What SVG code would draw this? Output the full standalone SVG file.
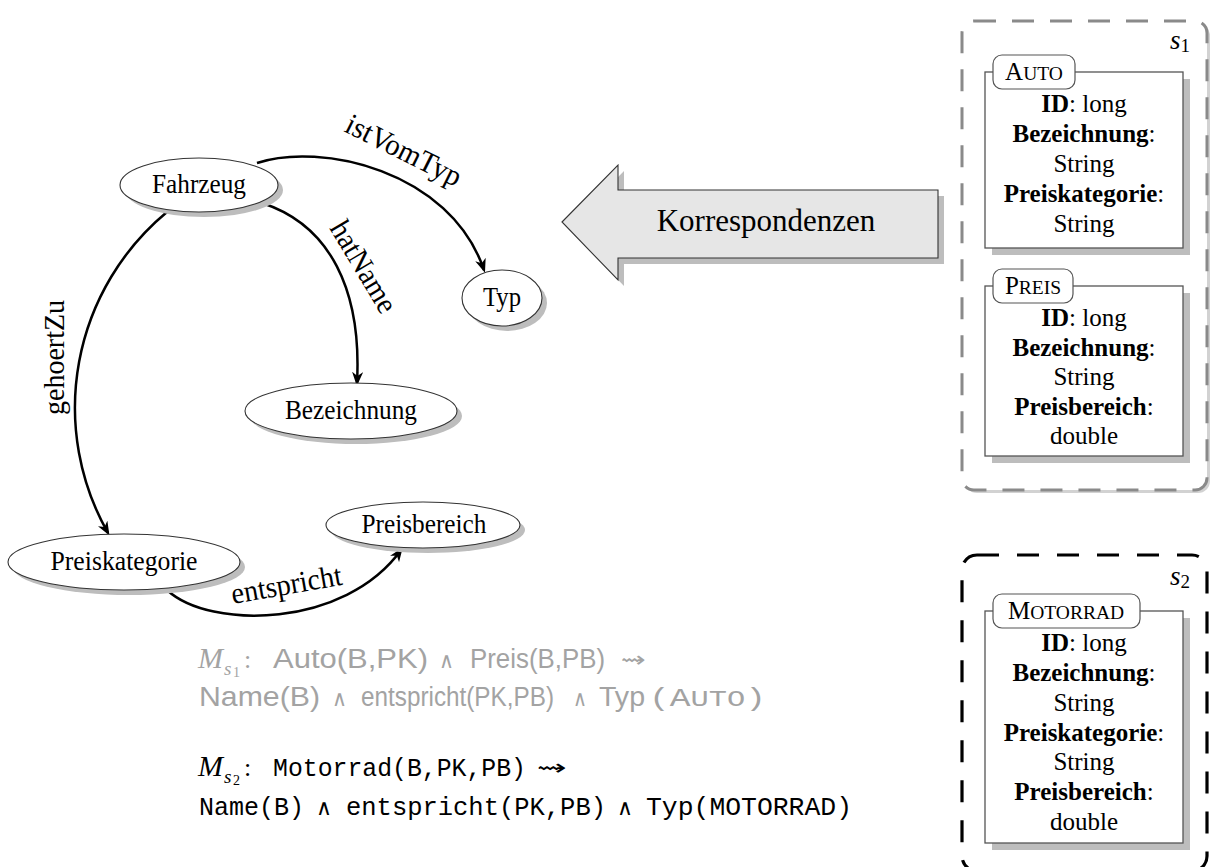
<svg xmlns="http://www.w3.org/2000/svg" width="1212" height="867" viewBox="0 0 1212 867">
  <defs>
    <marker id="arr" viewBox="0 0 14 11" refX="11" refY="5.5" markerWidth="14" markerHeight="11" markerUnits="userSpaceOnUse" orient="auto">
      <path d="M0,0 L14,5.5 L0,11 L4,5.5 z" fill="#000"/>
    </marker>
  </defs>
  <style>
    .nshadow { fill: #bdbdbd; }
    .node { fill: #fff; stroke: #333; stroke-width: 1.1; }
    .nlabel { font-family: "Liberation Serif", serif; font-size: 26.5px; text-anchor: middle; fill: #000; }
    .edge { fill: none; stroke: #000; stroke-width: 2.5; marker-end: url(#arr); }
    .elabel { font-family: "Liberation Serif", serif; font-size: 30px; fill: #000; }
    .bigarrow { fill: #e6e6e6; stroke: #333; stroke-width: 1.1; }
    .bigshadow { fill: #bdbdbd; }
    .cshadow { fill: #bdbdbd; }
    .cbox { fill: #fff; stroke: #555; stroke-width: 1.3; }
    .ctab { fill: #fff; stroke: #555; stroke-width: 1.2; }
    .ctitle { font-family: "Liberation Serif", serif; font-size: 25px; text-anchor: middle; }
    .sc { font-size: 19.5px; }
    .attr { font-family: "Liberation Serif", serif; font-size: 25px; text-anchor: middle; }
    .b { font-weight: bold; }
    .schema1 { fill: #fff; stroke: #8a8a8a; stroke-width: 3; stroke-dasharray: 22 16; }
    .schema1-shadow { fill: #d2d2d2; }
    .schema2 { fill: none; stroke: #000; stroke-width: 3.2; stroke-dasharray: 22 18; }
    .slabel { font-family: "Liberation Serif", serif; font-size: 27px; font-style: italic; }
    .sidx { font-family: "Liberation Serif", serif; font-size: 19px; font-style: normal; }
    .mi { font-family: "Liberation Serif", serif; font-style: italic; }
    .sans { font-family: "Liberation Sans", Arial, sans-serif; font-size: 27.5px; }
    .mono { font-family: "Liberation Mono", "Courier New", monospace; font-size: 25px; }
    .sym { font-family: "DejaVu Sans", sans-serif; font-size: 22px; }
    .grey { fill: #a3a3a3; }
    .black { fill: #000; }
  </style>

  <!-- connectors -->
  <g id="edges">
    <path class="edge" d="M257,163 C320,142 450,170 484,270"/>
    <path class="edge" d="M262,203 C330,225 362,290 357,383"/>
    <path class="edge" d="M167,212 A254,254 0 0 0 108,533"/>
    <path class="edge" d="M167,590 C210,630 345,628 401,550"/>
    <text class="elabel" transform="translate(343,131) rotate(26.5)" textLength="126" lengthAdjust="spacingAndGlyphs">istVomTyp</text>
    <text class="elabel" transform="translate(329,228) rotate(59)" textLength="102" lengthAdjust="spacingAndGlyphs">hatName</text>
    <text class="elabel" transform="translate(64,415) rotate(-90)" textLength="115" lengthAdjust="spacingAndGlyphs">gehoertZu</text>
    <text class="elabel" transform="translate(233,604) rotate(-10)" textLength="112" lengthAdjust="spacingAndGlyphs">entspricht</text>
  </g>

  <!-- ontology nodes -->
  <g id="n-fahrzeug">
    <ellipse class="nshadow" cx="204" cy="190" rx="79" ry="27"/>
    <ellipse class="node" cx="199" cy="185" rx="79" ry="27"/>
    <text class="nlabel" x="199" y="193" textLength="94" lengthAdjust="spacingAndGlyphs">Fahrzeug</text>
  </g>
  <g id="n-typ">
    <ellipse class="nshadow" cx="507" cy="303" rx="40" ry="28"/>
    <ellipse class="node" cx="502" cy="298" rx="40" ry="28"/>
    <text class="nlabel" x="502" y="306" textLength="38" lengthAdjust="spacingAndGlyphs">Typ</text>
  </g>
  <g id="n-bezeichnung">
    <ellipse class="nshadow" cx="356" cy="416" rx="106" ry="28"/>
    <ellipse class="node" cx="351" cy="411" rx="106" ry="28"/>
    <text class="nlabel" x="351" y="419" textLength="132" lengthAdjust="spacingAndGlyphs">Bezeichnung</text>
  </g>
  <g id="n-preiskategorie">
    <ellipse class="nshadow" cx="129" cy="567" rx="116" ry="28"/>
    <ellipse class="node" cx="124" cy="562" rx="116" ry="28"/>
    <text class="nlabel" x="124" y="570" textLength="147" lengthAdjust="spacingAndGlyphs">Preiskategorie</text>
  </g>
  <g id="n-preisbereich">
    <ellipse class="nshadow" cx="428" cy="530" rx="97" ry="23"/>
    <ellipse class="node" cx="423" cy="525" rx="97" ry="23"/>
    <text class="nlabel" x="424" y="533" textLength="125" lengthAdjust="spacingAndGlyphs">Preisbereich</text>
  </g>

  <!-- correspondence arrow -->
  <g id="korrespondenzen">
    <polygon class="bigshadow" points="568,228 624,171 624,196 944,196 944,264 624,264 624,286"/>
    <polygon class="bigarrow" points="562,222 618,165 618,190 938,190 938,258 618,258 618,280"/>
    <text x="766" y="231" font-family="Liberation Serif, serif" font-size="31" text-anchor="middle">Korrespondenzen</text>
  </g>

  <!-- source schema s1 -->
  <g id="schema-s1">
    <rect class="schema1-shadow" x="965" y="24" width="245" height="469" rx="12"/>
    <rect class="schema1" x="962" y="21" width="245" height="469" rx="12"/>
    <text class="slabel" x="1170" y="49">s<tspan class="sidx" dy="3">1</tspan></text>
  </g>
  <g id="cls-auto">
    <rect class="cshadow" x="992" y="79" width="198" height="176"/>
    <rect class="cbox" x="985" y="72" width="198" height="176"/>
    <rect class="ctab" x="993" y="55" width="82" height="34" rx="9"/>
    <text class="ctitle" x="1034" y="80">A<tspan class="sc">UTO</tspan></text>
    <text class="attr" x="1084" y="112"><tspan class="b">ID</tspan>: long</text>
    <text class="attr" x="1084" y="142"><tspan class="b">Bezeichnung</tspan>:</text>
    <text class="attr" x="1084" y="172">String</text>
    <text class="attr" x="1084" y="202"><tspan class="b">Preiskategorie</tspan>:</text>
    <text class="attr" x="1084" y="232">String</text>
  </g>
  <g id="cls-preis">
    <rect class="cshadow" x="992" y="293" width="198" height="170"/>
    <rect class="cbox" x="985" y="286" width="198" height="170"/>
    <rect class="ctab" x="993" y="269" width="80" height="34" rx="9"/>
    <text class="ctitle" x="1033" y="294">P<tspan class="sc">REIS</tspan></text>
    <text class="attr" x="1084" y="326"><tspan class="b">ID</tspan>: long</text>
    <text class="attr" x="1084" y="355.5"><tspan class="b">Bezeichnung</tspan>:</text>
    <text class="attr" x="1084" y="385">String</text>
    <text class="attr" x="1084" y="414.5"><tspan class="b">Preisbereich</tspan>:</text>
    <text class="attr" x="1084" y="444">double</text>
  </g>

  <!-- source schema s2 -->
  <g id="schema-s2">
    <rect class="schema2" x="962" y="555" width="245" height="316" rx="15"/>
    <text class="slabel" x="1170" y="585">s<tspan class="sidx" dy="3">2</tspan></text>
  </g>
  <g id="cls-motorrad">
    <rect class="cshadow" x="992" y="618" width="198" height="232"/>
    <rect class="cbox" x="985" y="611" width="198" height="232"/>
    <rect class="ctab" x="993" y="594" width="147" height="34" rx="9"/>
    <text class="ctitle" x="1066" y="619">M<tspan class="sc">OTORRAD</tspan></text>
    <text class="attr" x="1084" y="651"><tspan class="b">ID</tspan>: long</text>
    <text class="attr" x="1084" y="681"><tspan class="b">Bezeichnung</tspan>:</text>
    <text class="attr" x="1084" y="711">String</text>
    <text class="attr" x="1084" y="741"><tspan class="b">Preiskategorie</tspan>:</text>
    <text class="attr" x="1084" y="770">String</text>
    <text class="attr" x="1084" y="800"><tspan class="b">Preisbereich</tspan>:</text>
    <text class="attr" x="1084" y="830">double</text>
  </g>

  <!-- mapping M_s1 (grey) -->
  <g id="mapping-s1" class="grey">
    <text class="mi" x="198" y="668" font-size="30">M</text>
    <text class="mi" x="224" y="675" font-size="19">s</text>
    <text x="233" y="677" font-family="Liberation Serif, serif" font-size="14">1</text>
    <text x="244" y="668" font-family="Liberation Serif, serif" font-size="26">:</text>
    <text class="sans" x="273" y="668" textLength="155" lengthAdjust="spacingAndGlyphs">Auto(B,PK)</text>
    <text class="sym" x="439" y="668" textLength="15" lengthAdjust="spacingAndGlyphs">∧</text>
    <text class="sans" x="470" y="668" textLength="135" lengthAdjust="spacingAndGlyphs">Preis(B,PB)</text>
    <text class="sym" x="621" y="667" textLength="25" lengthAdjust="spacingAndGlyphs">⇝</text>
    <text class="sans" x="199" y="706" textLength="121" lengthAdjust="spacingAndGlyphs">Name(B)</text>
    <text class="sym" x="332" y="706" textLength="15" lengthAdjust="spacingAndGlyphs">∧</text>
    <text class="sans" x="361" y="706" font-size="24" textLength="193" lengthAdjust="spacingAndGlyphs">entspricht(PK,PB)</text>
    <text class="sym" x="573" y="706" textLength="14" lengthAdjust="spacingAndGlyphs">∧</text>
    <text class="sans" x="599" y="706" textLength="46" lengthAdjust="spacingAndGlyphs">Typ</text>
    <text class="mono" x="649" y="706" font-size="28" textLength="117" lengthAdjust="spacingAndGlyphs">(A<tspan font-size="22">UTO</tspan>)</text>
  </g>

  <!-- mapping M_s2 (black) -->
  <g id="mapping-s2" class="black">
    <text class="mi" x="198" y="776" font-size="30">M</text>
    <text class="mi" x="224" y="783" font-size="19">s</text>
    <text x="233" y="785" font-family="Liberation Serif, serif" font-size="14">2</text>
    <text x="244" y="776" font-family="Liberation Serif, serif" font-size="26">:</text>
    <text class="mono" x="273" y="776" textLength="253" lengthAdjust="spacingAndGlyphs">Motorrad(B,PK,PB)</text>
    <text class="sym" x="537" y="775" textLength="30" lengthAdjust="spacingAndGlyphs">⇝</text>
    <text class="mono" x="199" y="815" textLength="105" lengthAdjust="spacingAndGlyphs">Name(B)</text>
    <text class="sym" x="316" y="815" textLength="16" lengthAdjust="spacingAndGlyphs">∧</text>
    <text class="mono" x="346" y="815" textLength="260" lengthAdjust="spacingAndGlyphs">entspricht(PK,PB)</text>
    <text class="sym" x="617" y="815" textLength="16" lengthAdjust="spacingAndGlyphs">∧</text>
    <text class="mono" x="646" y="815" textLength="206" lengthAdjust="spacingAndGlyphs">Typ(MOTORRAD)</text>
  </g>
</svg>
